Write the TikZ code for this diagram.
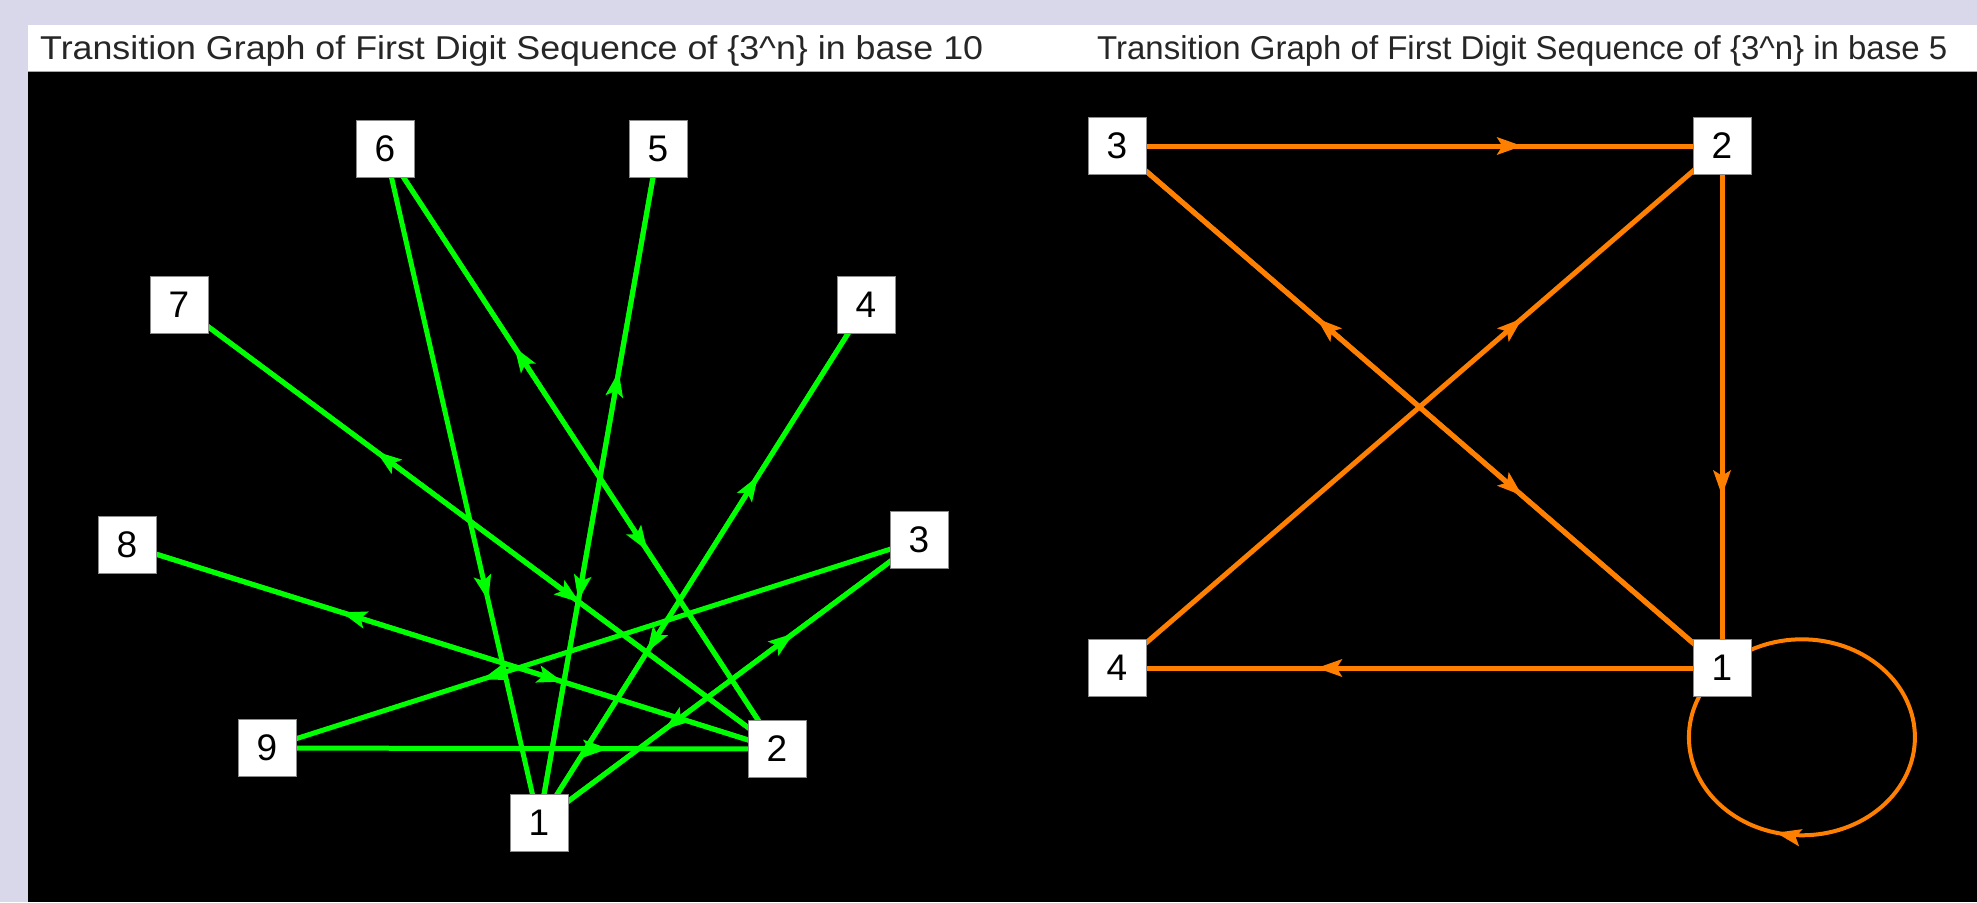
\documentclass[tikz,border=0pt]{standalone}
\usepackage{fontspec}
\setmainfont{Liberation Sans}
\usepackage{graphicx}
\usetikzlibrary{arrows.meta,decorations.markings}
\definecolor{panelbg}{HTML}{D8D8EA}
\definecolor{tgreen}{HTML}{00FF00}
\definecolor{torange}{HTML}{FF8000}
\pgfdeclarelayer{back}
\pgfdeclarelayer{edges}
\pgfsetlayers{back,edges,main}
\newcommand{\graphtitle}[2]{\resizebox{#1}{\height}{Transition Graph of First Digit Sequence of \{3\textasciicircum n\} in base #2}}

\begin{document}
\begin{tikzpicture}[x=1pt, y=-1pt,
  digit/.style={draw=black!45, line width=0.8pt, fill=white, minimum width=58pt, minimum height=57pt, inner sep=0pt, font=\fontsize{37}{37}\selectfont},
  title/.style={anchor=base west, inner sep=0pt, font=\fontsize{33}{33}\selectfont, text=black!85},
  midarrow/.style={postaction={decorate}, decoration={markings, mark=at position 0.67 with {\arrow{Stealth[length=25pt, width=17pt, inset=5pt]}}}},
  green edge/.style={tgreen, line width=5pt, midarrow},
  orange edge/.style={torange, line width=5pt, midarrow}]
\useasboundingbox (0,0) rectangle (1977,902);
\begin{pgfonlayer}{back}
\fill[panelbg] (0,0) rectangle (1977,902);
\fill[white] (28,25) rectangle (1977,72);
\fill[black] (28,72) rectangle (1977,902);
\draw[black!35, line width=1.5pt] (28,71.5) -- (1977,71.5);
\end{pgfonlayer}
% titles
\node[title] (t10) at (40,59) {\graphtitle{943pt}{10}};
\node[title] (t5) at (1097,59) {\graphtitle{850pt}{5}};
% base 10
\node[digit] (a1) at (539,823) {1};
\node[digit] (a2) at (777,749) {2};
\node[digit] (a3) at (919,540) {3};
\node[digit] (a4) at (866,305) {4};
\node[digit] (a5) at (658,149) {5};
\node[digit] (a6) at (385,149) {6};
\node[digit] (a7) at (179,305) {7};
\node[digit] (a8) at (127,545) {8};
\node[digit] (a9) at (267,748) {9};
% base 5
\node[digit] (b1) at (1722,668) {1};
\node[digit] (b2) at (1722,146) {2};
\node[digit] (b3) at (1117,146) {3};
\node[digit] (b4) at (1117,668) {4};
\begin{pgfonlayer}{edges}
\foreach \x/\y in {a1/a3,a1/a4,a1/a5,a2/a6,a2/a7,a2/a8,a3/a9,a3/a1,a4/a1,a5/a1,a6/a1,a6/a2,a7/a2,a8/a2,a9/a2}
  \draw[green edge] (\x.center) -- (\y.center);
\foreach \x/\y in {b1/b3,b1/b4,b2/b1,b3/b1,b3/b2,b4/b2}
  \draw[orange edge] (\x.center) -- (\y.center);
\draw[orange edge, line width=4pt] (b1.center) arc[start angle=225, end angle=585, x radius=113, y radius=98];
\end{pgfonlayer}
\end{tikzpicture}
\end{document}
